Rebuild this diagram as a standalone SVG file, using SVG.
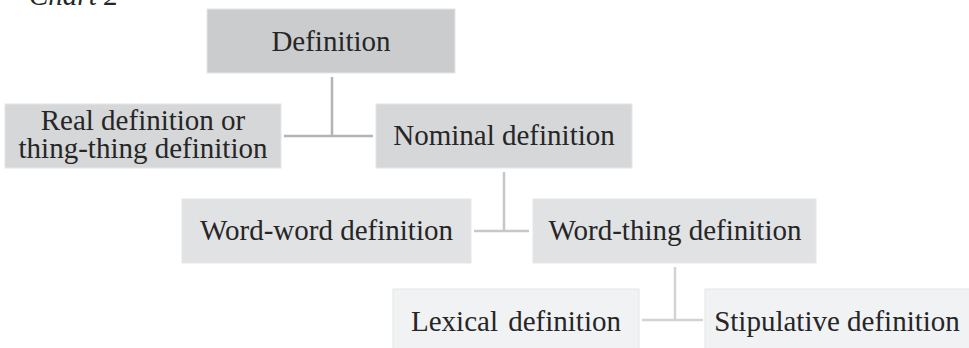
<svg xmlns="http://www.w3.org/2000/svg" width="969" height="348" viewBox="0 0 969 348">
<style>
text{font-family:"Liberation Serif","Times New Roman",serif;font-size:29px;fill:#262626;text-anchor:middle}
.n{stroke:#e6e6e8;stroke-width:1}
.l1{fill:#cbccce}
.l2{fill:#d6d7d9}
.l3{fill:#e1e2e4}
.l4{fill:#f1f2f4}
.c{fill:none;stroke-width:2.5}
</style>
<text x="29" y="5" style="font-style:italic;text-anchor:start">Chart 2</text>
<g id="connectors">
<path class="c" stroke="#b3b4b6" d="M332 77V136M284 136H373"/>
<path class="c" stroke="#c6c7c9" d="M504 172V231M474 231H529"/>
<path class="c" stroke="#d2d3d5" d="M675 267V320M642 320H703"/>
</g>
<g id="definition"><rect class="n l1" x="207" y="9" width="248" height="64"/><text x="331" y="51">Definition</text></g>
<g id="real"><rect class="n l2" x="5" y="104" width="276" height="64"/><text x="143" y="129.5">Real definition or</text><text x="143" y="158">thing-thing definition</text></g>
<g id="nominal"><rect class="n l2" x="376" y="104" width="256" height="64"/><text x="504" y="145">Nominal definition</text></g>
<g id="wordword"><rect class="n l3" x="182" y="199" width="289" height="64"/><text x="326.5" y="240">Word-word definition</text></g>
<g id="wordthing"><rect class="n l3" x="533" y="199" width="283" height="64"/><text x="675" y="240">Word-thing definition</text></g>
<g id="lexical"><rect class="n l4" x="393" y="289" width="246" height="64"/><text x="516" y="331" style="word-spacing:3px">Lexical definition</text></g>
<g id="stipulative"><rect class="n l4" x="705" y="289" width="268" height="64"/><text x="837" y="331">Stipulative definition</text></g>
</svg>
